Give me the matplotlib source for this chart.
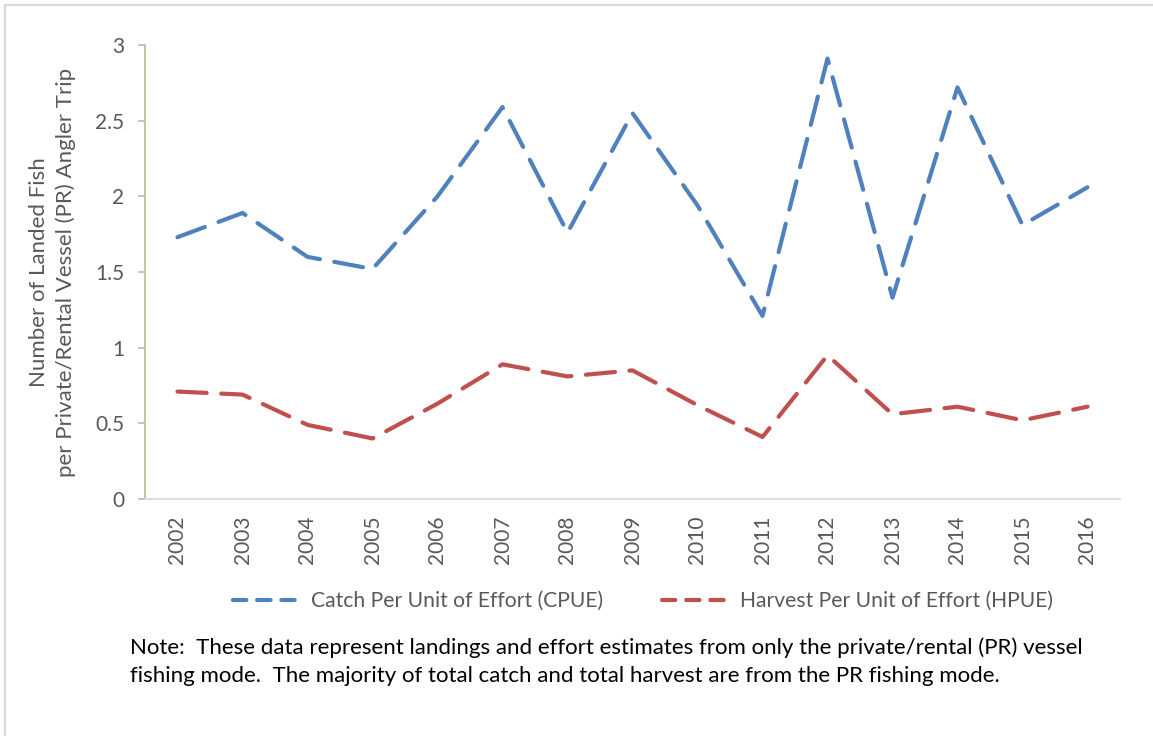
import numpy as np
import matplotlib
import matplotlib.pyplot as plt
from matplotlib.lines import Line2D

plt.rcParams['font.family'] = ['Lato', 'DejaVu Sans']

years = ['2002', '2003', '2004', '2005', '2006', '2007', '2008', '2009',
         '2010', '2011', '2012', '2013', '2014', '2015', '2016']
cpue = [1.73, 1.89, 1.60, 1.52, 2.00, 2.59, 1.76, 2.55, 1.94, 1.21, 2.91, 1.33, 2.72, 1.81, 2.06]
hpue = [0.71, 0.69, 0.49, 0.40, 0.63, 0.89, 0.81, 0.85, 0.62, 0.41, 0.95, 0.56, 0.61, 0.52, 0.61]
yticks = [0, 0.5, 1, 1.5, 2, 2.5, 3]
ytick_labels = ['0', '0.5', '1', '1.5', '2', '2.5', '3']

blue = '#4F81BD'
red = '#C0504D'
grey_txt = '#595959'

fig = plt.figure(figsize=(11.53, 7.36), dpi=100)
ax = fig.add_axes([145/1153, 1 - 499/736, (1120-145)/1153, (499-45)/736])

x = np.arange(len(years))
ax.plot(x, cpue, color=blue, lw=3, dashes=(7, 3.5), dash_capstyle='round', solid_capstyle='round')
ax.plot(x, hpue, color=red, lw=3, dashes=(7, 3.5), dash_capstyle='round', solid_capstyle='round')

ax.set_xlim(-0.5, len(years) - 0.5)
ax.set_ylim(0, 3)
ax.set_yticks(yticks)
ax.set_yticklabels(ytick_labels)
ax.set_xticks(x)
ax.set_xticklabels(years, rotation=90)
ax.tick_params(axis='x', length=0, pad=12, labelsize=15, labelcolor=grey_txt)
ax.tick_params(axis='y', length=5, width=1.2, color='#C4BD97', pad=10, labelsize=15, labelcolor=grey_txt)

for s in ['top', 'right']:
    ax.spines[s].set_visible(False)
ax.spines['left'].set_color('#C4BD97')
ax.spines['left'].set_linewidth(1.3)
ax.spines['bottom'].set_color('#D9D9D9')
ax.spines['bottom'].set_linewidth(1.3)

ax.set_ylabel('Number of Landed Fish\nper Private/Rental Vessel (PR) Angler Trip',
              fontsize=16, color=grey_txt, labelpad=14, linespacing=1.35)

handles = [Line2D([], [], color=blue, lw=3, dashes=(3.2, 2.6), dash_capstyle='round'),
           Line2D([], [], color=red, lw=3, dashes=(3.2, 2.6), dash_capstyle='round')]
fig.legend(handles, ['Catch Per Unit of Effort (CPUE)', 'Harvest Per Unit of Effort (HPUE)'],
           loc='center', bbox_to_anchor=(643/1153, 1 - 601/736), ncol=2, frameon=False,
           fontsize=15.2, labelcolor=grey_txt, handlelength=3.0, columnspacing=2.8, handletextpad=0.7)

fig.text(130/1153, 1 - 648/736,
         'Note:  These data represent landings and effort estimates from only the private/rental (PR) vessel',
         fontsize=16, color='black', va='center')
fig.text(130/1153, 1 - 676/736,
         'fishing mode.  The majority of total catch and total harvest are from the PR fishing mode.',
         fontsize=16, color='black', va='center')

# outer frame
fig.add_artist(Line2D([5/1153, 1], [1 - 5/736, 1 - 5/736], color='#D9D9D9', lw=1.5))
fig.add_artist(Line2D([5/1153, 5/1153], [0, 1 - 5/736], color='#D9D9D9', lw=1.5))

fig.savefig('out.png', dpi=100)
